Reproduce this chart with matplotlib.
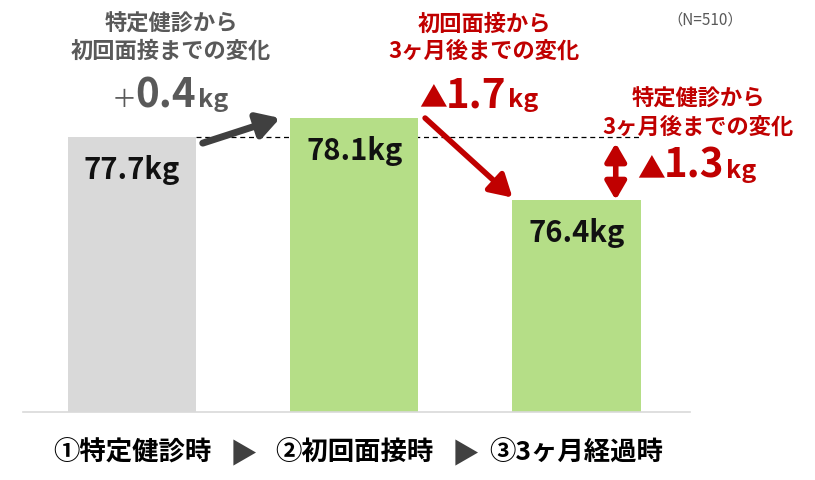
import matplotlib.pyplot as plt

plt.rcParams['font.family'] = ['Noto Sans CJK JP', 'DejaVu Sans']

# data
categories = ["①特定健診時", "②初回面接時", "③3ヶ月経過時"]
weights = [77.7, 78.1, 76.4]
bar_labels = ["77.7kg", "78.1kg", "76.4kg"]
bar_colors = ["#d9d9d9", "#b5de87", "#b5de87"]
n_label = "（N=510）"

GRAY = "#595959"
RED = "#c00000"
W = 0.577

fig = plt.figure(figsize=(8.15, 4.8), dpi=100)
ax = fig.add_axes([23 / 815, 1 - 412 / 480, 667 / 815, 412 / 480])
x = range(len(weights))
ax.bar(x, weights, width=W, color=bar_colors, zorder=2)
ax.set_xlim(-0.49, 2.51)
ax.set_ylim(72, 80.55)

for s in ["left", "right", "top"]:
    ax.spines[s].set_visible(False)
ax.spines["bottom"].set_color("#d9d9d9")
ax.spines["bottom"].set_linewidth(1.2)
ax.set_yticks([])
ax.set_xticks(list(x))
ax.set_xticklabels(categories, fontsize=19, fontweight="bold", color="black")
ax.tick_params(axis="x", length=0, pad=20)

# arrows between tick labels
for xm in [0.5, 1.5]:
    ax.annotate("▶", xy=(xm, 0), xycoords=("data", "axes fraction"),
                xytext=(0, -43), textcoords="offset pixels",
                ha="center", va="center", fontsize=20, color="#404040")

# value labels inside bars
for xi, v, lab in zip(x, weights, bar_labels):
    ax.annotate(lab, xy=(xi, v), xytext=(0, -33), textcoords="offset pixels",
                ha="center", va="center", fontsize=21, fontweight="bold",
                color="#111111", zorder=3)

# dashed reference line at first value
ax.plot([0 + W / 2, 2 + W / 2], [weights[0], weights[0]], ls=(0, (4, 3)),
        color="black", lw=0.9, zorder=1)

# gray arrow: 1 -> 2
ax.annotate("", xy=(1 - W / 2 - 0.045, weights[1]),
            xytext=(0 + W / 2 + 0.03, weights[0] - 0.12),
            arrowprops=dict(arrowstyle="-|>,head_length=0.6,head_width=0.35",
                            lw=5, color="#404040", mutation_scale=22,
                            shrinkA=0, shrinkB=0))
# red arrow: 2 -> 3
ax.annotate("", xy=(2 - W / 2, weights[2] + 0.05),
            xytext=(1 + W / 2 + 0.03, weights[1]),
            arrowprops=dict(arrowstyle="-|>,head_length=0.6,head_width=0.35",
                            lw=4, color=RED, mutation_scale=22,
                            shrinkA=0, shrinkB=0))
# red double arrow: 1 vs 3
ax.annotate("", xy=(2.176, weights[2]), xytext=(2.176, weights[0] - 0.12),
            arrowprops=dict(arrowstyle="<|-|>,head_length=0.6,head_width=0.35",
                            lw=4, color=RED, mutation_scale=18,
                            shrinkA=0, shrinkB=0))


def fx(px):
    return px / 815


def fy(py):
    return 1 - py / 480


# headings
fig.text(fx(171), fy(38), "特定健診から\n初回面接までの変化", ha="center", va="center",
         fontsize=16, fontweight="bold", color=GRAY, linespacing=1.25)
fig.text(fx(484), fy(38), "初回面接から\n3ヶ月後までの変化", ha="center", va="center",
         fontsize=16, fontweight="bold", color=RED, linespacing=1.25)
fig.text(fx(698), fy(113), "特定健診から\n3ヶ月後までの変化", ha="center", va="center",
         fontsize=16, fontweight="bold", color=RED, linespacing=1.3)
fig.text(fx(705), fy(20), n_label, ha="center", va="center",
         fontsize=11, color=GRAY)


def change_text(sign, num, x_num_right, base_y, color, sign_kw):
    fig.text(fx(x_num_right), fy(base_y), num, ha="right", va="baseline",
             fontsize=29, fontweight="bold", color=color)
    fig.text(fx(x_num_right + 2), fy(base_y), "kg", ha="left", va="baseline",
             fontsize=18, fontweight="bold", color=color)
    fig.text(fx(x_num_right - 59), fy(base_y), sign, ha="right", va="baseline",
             color=color, **sign_kw)


change_text("＋", "0.4", 196, 107, GRAY, dict(fontsize=18, fontweight="normal"))
change_text("▲", "1.7", 506, 107, RED, dict(fontsize=20, fontweight="bold"))
change_text("▲", "1.3", 724, 178, RED, dict(fontsize=20, fontweight="bold"))

fig.savefig("out.png", dpi=100)
